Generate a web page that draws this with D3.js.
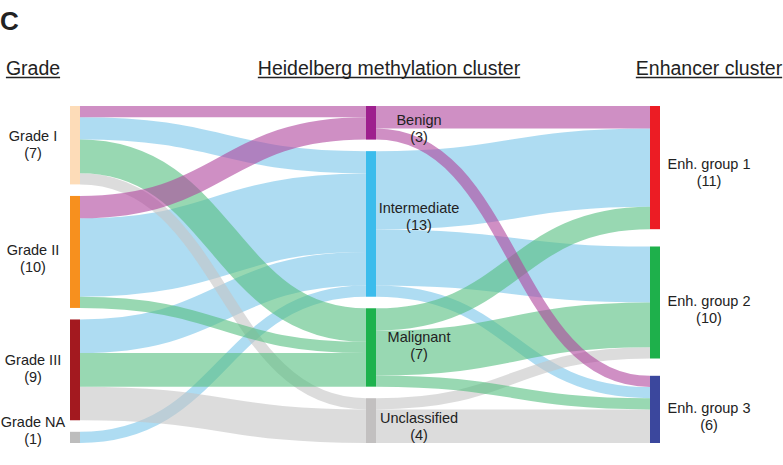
<!DOCTYPE html>
<html>
<head>
<meta charset="utf-8">
<script src="https://cdn.jsdelivr.net/npm/d3@7"></script>
<style>
  body { margin: 0; background: #ffffff; }
  svg { display: block; }
  text { font-family: "Liberation Sans", Arial, Helvetica, sans-serif; fill: #222222; }
</style>
</head>
<body>
<svg id="chart" width="783" height="465"></svg>
<script>
// ---- Data -------------------------------------------------------------
const grades = ["Grade I", "Grade II", "Grade III", "Grade NA"];
const gradeCounts = [7, 10, 9, 1];

const methylClusters = ["Benign", "Intermediate", "Malignant", "Unclassified"];
const methylCounts = [3, 13, 7, 4];

const enhClusters = ["Enh. group 1", "Enh. group 2", "Enh. group 3"];
const enhCounts = [11, 10, 6];

// Number of tumours flowing grade -> methylation cluster (rows: grades)
const gradeToMethyl = [
  [1, 2, 3, 1],
  [2, 7, 1, 0],
  [0, 3, 3, 3],
  [0, 1, 0, 0]
];
// Number of tumours flowing methylation cluster -> enhancer cluster
const methylToEnh = [
  [2, 0, 1],
  [7, 5, 1],
  [2, 4, 1],
  [0, 1, 3]
];

const columnTitles = ["Grade", "Heidelberg methylation cluster", "Enhancer cluster"];

// ---- Styling ----------------------------------------------------------
const gradeColors = ["#fddcb8", "#f7901e", "#a3191f", "#bdbdbd"];
const methylColors = ["#9e1f8e", "#3bbcec", "#1db24d", "#c2c0c0"];
const enhColors = ["#ec1c24", "#1eb04b", "#3b479d"];
const linkColors = ["#af449d", "#78c5e9", "#53be7f", "#c5c5c5"];
// stacking order of link colours (lowest first): blue, grey, green, purple
const linkLayer = [3, 0, 2, 1];
const linkOpacity = 0.6;

const svg = d3.select("#chart");
const nodeWidth = 10;
const yTop = 106, yBottom = 443;
const colX = [70, 366, 650];
const total = d3.sum(gradeCounts);

// vertical size of one tumour
const unit = d3.scaleLinear().domain([0, total]).range([0, 302.4]);

function layoutColumn(names, counts, colors, x) {
  const gap = (yBottom - yTop - unit(total)) / (names.length - 1);
  let y = yTop;
  return names.map((name, i) => {
    const h = unit(counts[i]);
    const node = { name, count: counts[i], color: colors[i], x0: x, x1: x + nodeWidth, y0: y, y1: y + h };
    y += h + gap;
    return node;
  });
}

const gradeNodes = layoutColumn(grades, gradeCounts, gradeColors, colX[0]);
const methylNodes = layoutColumn(methylClusters, methylCounts, methylColors, colX[1]);
const enhNodes = layoutColumn(enhClusters, enhCounts, enhColors, colX[2]);

// Build links between two columns, stacking them at both ends in node order
function buildLinks(sources, targets, matrix, clusterOf) {
  const links = [];
  matrix.forEach((row, i) => row.forEach((v, j) => {
    if (v > 0) {
      const k = clusterOf(i, j);
      links.push({ s: i, t: j, value: v, width: unit(v), color: linkColors[k], layer: linkLayer[k] });
    }
  }));
  sources.forEach((src, i) => {
    let y = src.y0;
    links.filter(l => l.s === i).sort((a, b) => a.t - b.t).forEach(l => { l.sy = y + l.width / 2; y += l.width; });
  });
  targets.forEach((tgt, j) => {
    let y = tgt.y0;
    links.filter(l => l.t === j).sort((a, b) => a.s - b.s).forEach(l => { l.ty = y + l.width / 2; y += l.width; });
  });
  links.forEach(l => { l.x0 = sources[l.s].x1; l.x1 = targets[l.t].x0; });
  return links;
}

const links1 = buildLinks(gradeNodes, methylNodes, gradeToMethyl, (i, j) => j);
const links2 = buildLinks(methylNodes, enhNodes, methylToEnh, (i, j) => i);
const allLinks = links1.concat(links2).sort((a, b) => a.layer - b.layer);

const linkPath = d3.linkHorizontal().x(d => d[0]).y(d => d[1]);

svg.append("g")
  .attr("fill", "none")
  .selectAll("path")
  .data(allLinks)
  .join("path")
  .attr("d", l => linkPath({ source: [l.x0, l.sy], target: [l.x1, l.ty] }))
  .attr("stroke", l => l.color)
  .attr("stroke-opacity", linkOpacity)
  .attr("stroke-width", l => l.width);

// Nodes
const allNodes = gradeNodes.concat(methylNodes, enhNodes);
svg.append("g")
  .selectAll("rect")
  .data(allNodes)
  .join("rect")
  .attr("x", d => d.x0)
  .attr("y", d => d.y0)
  .attr("width", nodeWidth)
  .attr("height", d => d.y1 - d.y0)
  .attr("fill", d => d.color);

// Node labels: name on first line, count below
const labelX = [33, 419, 709];
const labelShift = {
  "Grade I": -4, "Grade II": 3, "Grade III": -5, "Grade NA": -10,
  "Benign": 2, "Intermediate": -11, "Malignant": -5, "Unclassified": 2.5,
  "Enh. group 1": 1, "Enh. group 2": 3, "Enh. group 3": 4
};
[gradeNodes, methylNodes, enhNodes].forEach((col, c) => {
  const g = svg.append("g").attr("font-size", 14.5).attr("text-anchor", "middle");
  col.forEach(n => {
    const base = (n.y0 + n.y1) / 2 + labelShift[n.name];
    const t = g.append("text").attr("x", labelX[c]).attr("y", base);
    t.append("tspan").attr("x", labelX[c]).text(n.name);
    t.append("tspan").attr("x", labelX[c]).attr("dy", 17).text("(" + n.count + ")");
  });
});

// Column titles, underlined
const titleX = [33, 389, 709];
const titles = svg.append("g");
columnTitles.forEach((txt, i) => {
  const t = titles.append("text")
    .attr("x", titleX[i]).attr("y", 75)
    .attr("font-size", 19.5)
    .attr("text-anchor", "middle")
    .text(txt);
  const w = t.node().getComputedTextLength();
  titles.append("line")
    .attr("x1", titleX[i] - w / 2).attr("x2", titleX[i] + w / 2)
    .attr("y1", 77.5).attr("y2", 77.5)
    .attr("stroke", "#222222").attr("stroke-width", 1.5);
});

// Panel letter
svg.append("text")
  .attr("x", 0).attr("y", 30)
  .attr("font-size", 26)
  .attr("font-weight", "bold")
  .text("C");
</script>
</body>
</html>
